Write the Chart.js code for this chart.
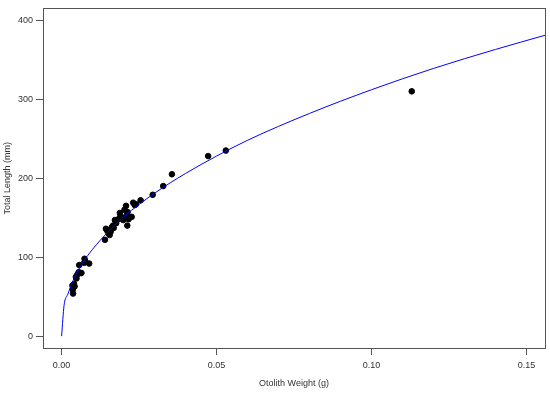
<!DOCTYPE html>
<html>
<head>
<meta charset="utf-8">
<script src="https://cdn.jsdelivr.net/npm/chart.js@4/dist/chart.umd.min.js"></script>
<style>
  html,body{margin:0;padding:0;background:#fff;}
  #wrap{width:550px;height:393px;}
</style>
</head>
<body>
<div id="wrap"><canvas id="chart" width="550" height="393"></canvas></div>
<script>
// observed fish: otolith weight (g) vs total length (mm)
const otolithWeight = [
  0.0037,0.0036,0.0038,0.0035,0.0040,0.0042,0.0048,0.0046,0.0051,0.0055,0.0060,0.0064,0.0057,0.0074,0.0076,0.0073,0.0089,
  0.0140,0.0143,0.0148,0.0152,0.0155,0.0158,0.0160,0.0162,0.0166,0.0168,0.0172,0.0176,0.0183,0.0188,0.0190,0.0194,0.0199,
  0.0203,0.0204,0.0208,0.0210,0.0213,0.0212,0.0216,0.0226,0.0231,0.0236,0.0240,0.0255,0.0294,0.0328,0.0356,0.0473,0.0530,0.1130
];
const totalLength = [
  54,59,62,64,66,63,73,75,78,81,80,80,90,98,95,93,92,
  122,136,133,130,128,132,135,138,140,137,147,143,148,156,152,150,147,
  160,150,165,153,157,140,148,151,169,166,167,172,179,190,205,228,235,310
];

// fitted curve
const fitWeight = [0,0.0008,0.002,0.004,0.007,0.01,0.015,0.02,0.03,0.04,0.05,0.06,0.08,0.10,0.12,0.14,0.156];
const fitLength = [0,39,53,73,94,110,132,151,181,206,228,248,282,312,339,363,381];

const xTicks = [0,0.05,0.10,0.15];
const yTicks = [0,100,200,300,400];

const FONT = '"Liberation Sans", Arial, sans-serif';
const AXIS = '#555';
const TEXT = '#333';

const toPoints = (xs, ys) => xs.map((x,i)=>({x, y: ys[i]}));

// draws the full box round the plot area
const boxPlugin = {
  id:'box',
  afterDatasetsDraw(chart){
    const {ctx, chartArea:a} = chart;
    ctx.save();
    ctx.strokeStyle = AXIS;
    ctx.lineWidth = 1;
    ctx.strokeRect(Math.round(a.left)+0.5, Math.round(a.top)+0.5, Math.round(a.right-a.left), Math.round(a.bottom-a.top));
    ctx.restore();
  }
};

new Chart(document.getElementById('chart'), {
  type:'scatter',
  data:{
    datasets:[
      {
        label:'fit',
        type:'line',
        data: toPoints(fitWeight, fitLength),
        borderColor:'#0000ff',
        borderWidth:1,
        pointRadius:0,
        fill:false,
        cubicInterpolationMode:'monotone'
      },
      {
        label:'fish',
        data: toPoints(otolithWeight, totalLength),
        backgroundColor:'#000',
        borderColor:'#000',
        pointRadius:2.8,
        pointHoverRadius:2.8
      }
    ]
  },
  options:{
    responsive:false,
    animation:false,
    layout:{padding:{top:7,right:5,left:0,bottom:0}},
    plugins:{legend:{display:false},tooltip:{enabled:false}},
    scales:{
      x:{
        type:'linear',
        min:-0.006, max:0.156,
        afterBuildTicks(s){ s.ticks = xTicks.map(v=>({value:v})); },
        afterFit(s){ s.height = 45; },
        grid:{drawOnChartArea:false, drawTicks:true, tickLength:7, color:AXIS},
        border:{display:true, color:AXIS},
        ticks:{
          color:TEXT, padding:5, maxRotation:0,
          font:{family:FONT, size:9},
          callback:v=>v.toFixed(2)
        },
        title:{display:true, text:'Otolith Weight (g)', color:TEXT,
          font:{family:FONT, size:9}, padding:{top:0,bottom:4}}
      },
      y:{
        type:'linear',
        min:-15, max:415,
        afterBuildTicks(s){ s.ticks = yTicks.map(v=>({value:v})); },
        afterFit(s){ s.width = 43; },
        grid:{drawOnChartArea:false, drawTicks:true, tickLength:7, color:AXIS},
        border:{display:true, color:AXIS},
        ticks:{
          color:TEXT, padding:3,
          font:{family:FONT, size:9},
          callback:v=>String(v)
        },
        title:{display:true, text:'Total Length (mm)', color:TEXT,
          font:{family:FONT, size:9}, padding:{top:2,bottom:0}}
      }
    }
  },
  plugins:[boxPlugin]
});
</script>
</body>
</html>
